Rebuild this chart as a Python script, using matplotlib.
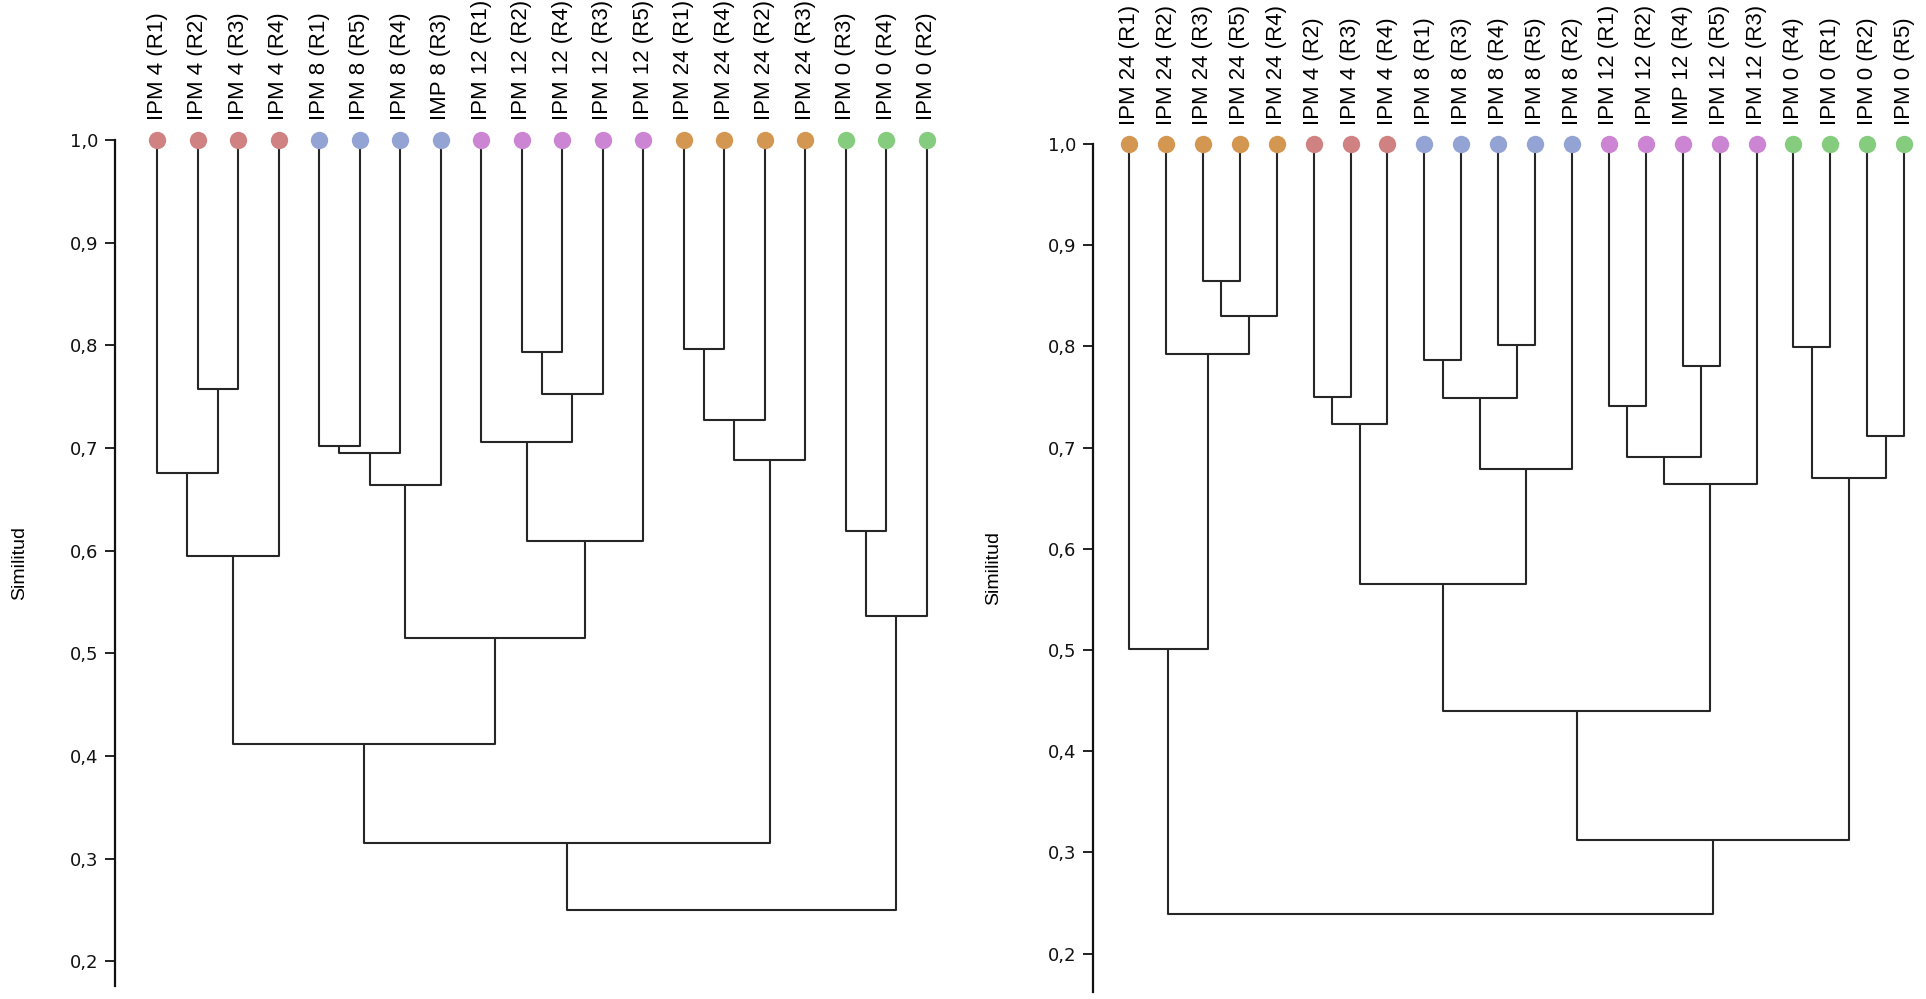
import matplotlib.pyplot as plt
from matplotlib.ticker import FuncFormatter

# Leaf order, groups and merge steps (left, right, similarity) for each tree
left_labels = ["IPM 4 (R1)", "IPM 4 (R2)", "IPM 4 (R3)", "IPM 4 (R4)",
               "IPM 8 (R1)", "IPM 8 (R5)", "IPM 8 (R4)", "IMP 8 (R3)",
               "IPM 12 (R1)", "IPM 12 (R2)", "IPM 12 (R4)", "IPM 12 (R3)", "IPM 12 (R5)",
               "IPM 24 (R1)", "IPM 24 (R4)", "IPM 24 (R2)", "IPM 24 (R3)",
               "IPM 0 (R3)", "IPM 0 (R4)", "IPM 0 (R2)"]
left_groups = [4, 4, 4, 4, 8, 8, 8, 8, 12, 12, 12, 12, 12, 24, 24, 24, 24, 0, 0, 0]
left_merges = [(1, 2, 0.757), (0, 20, 0.676), (21, 3, 0.595),
               (4, 5, 0.702), (23, 6, 0.695), (24, 7, 0.664),
               (9, 10, 0.793), (26, 11, 0.753), (8, 27, 0.706), (28, 12, 0.609),
               (25, 29, 0.515), (22, 30, 0.412),
               (13, 14, 0.796), (32, 15, 0.727), (33, 16, 0.688),
               (31, 34, 0.315),
               (17, 18, 0.619), (36, 19, 0.536),
               (35, 37, 0.250)]

right_labels = ["IPM 24 (R1)", "IPM 24 (R2)", "IPM 24 (R3)", "IPM 24 (R5)", "IPM 24 (R4)",
                "IPM 4 (R2)", "IPM 4 (R3)", "IPM 4 (R4)",
                "IPM 8 (R1)", "IPM 8 (R3)", "IPM 8 (R4)", "IPM 8 (R5)", "IPM 8 (R2)",
                "IPM 12 (R1)", "IPM 12 (R2)", "IMP 12 (R4)", "IPM 12 (R5)", "IPM 12 (R3)",
                "IPM 0 (R4)", "IPM 0 (R1)", "IPM 0 (R2)", "IPM 0 (R5)"]
right_groups = [24, 24, 24, 24, 24, 4, 4, 4, 8, 8, 8, 8, 8, 12, 12, 12, 12, 12, 0, 0, 0, 0]
right_merges = [(2, 3, 0.865), (22, 4, 0.830), (1, 23, 0.792), (0, 24, 0.501),
                (5, 6, 0.750), (26, 7, 0.723),
                (8, 9, 0.787), (10, 11, 0.801), (28, 29, 0.749), (30, 12, 0.679),
                (27, 31, 0.565),
                (13, 14, 0.741), (15, 16, 0.781), (33, 34, 0.691), (35, 17, 0.664),
                (32, 36, 0.440),
                (18, 19, 0.799), (20, 21, 0.711), (38, 39, 0.670),
                (37, 40, 0.312), (25, 41, 0.239)]

group_colors = {4: "#d08282", 8: "#93a3d3", 12: "#cc85d2", 24: "#d49752", 0: "#85cc7e"}
yticks = [0.2, 0.3, 0.4, 0.5, 0.6, 0.7, 0.8, 0.9, 1.0]

line_color = "#262626"


def draw_tree(ax, labels, groups, merges):
    n = len(labels)
    xpos = {i: float(i) for i in range(n)}
    ypos = {i: 1.0 for i in range(n)}
    for k, (a, b, h) in enumerate(merges):
        ax.plot([xpos[a], xpos[a], xpos[b], xpos[b]], [ypos[a], h, h, ypos[b]],
                color=line_color, lw=1.5, solid_capstyle="butt", zorder=2)
        xpos[n + k] = (xpos[a] + xpos[b]) / 2
        ypos[n + k] = h
    for i in range(n):
        ax.plot(i, 1.0, "o", ms=12.5, color=group_colors[groups[i]], mec="none",
                clip_on=False, zorder=3)
        ax.annotate(labels[i], (i, 1.0), xytext=(0, 14), textcoords="offset points",
                    rotation=90, ha="center", va="bottom", fontsize=16,
                    family="Liberation Sans", annotation_clip=False)


fig = plt.figure(figsize=(19.26, 9.99), dpi=100)
ax1 = fig.add_axes([0.0597, 0.0130, 0.434, 0.847])
ax2 = fig.add_axes([0.5673, 0.0070, 0.4271, 0.8489])

draw_tree(ax1, left_labels, left_groups, left_merges)
draw_tree(ax2, right_labels, right_groups, right_merges)

ax1.set_xlim(-1.04, 19.6)
ax1.set_ylim(0.176, 1.0)
ax2.set_xlim(-0.99, 21.3)
ax2.set_ylim(0.162, 1.0)

for ax, lx in [(ax1, -0.104), (ax2, -0.110)]:
    for s in ["top", "right", "bottom"]:
        ax.spines[s].set_visible(False)
    ax.spines["left"].set_color("#111111")
    ax.spines["left"].set_linewidth(1.6)
    ax.set_xticks([])
    ax.set_yticks(yticks)
    ax.yaxis.set_major_formatter(FuncFormatter(lambda v, p: f"{v:.1f}".replace(".", ",")))
    ax.tick_params(axis="y", length=7, width=1.3, pad=5, labelsize=13, colors="#111111")
    ax.set_ylabel("Similitud", fontsize=14, family="Liberation Sans")
    ax.yaxis.set_label_coords(lx, 0.5)

fig.savefig("out.png", dpi=100)
